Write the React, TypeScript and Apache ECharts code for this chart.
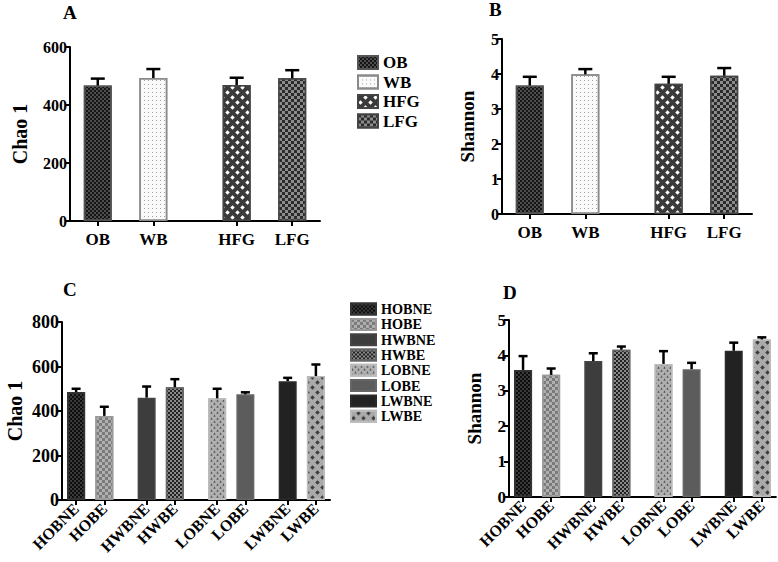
import React, { useEffect, useRef } from 'react';
import * as echarts from 'echarts';

// ---------- data ----------
const groupCats = ['OB', 'WB', 'HFG', 'LFG'];
const chaoMeans = [467, 493, 469, 492];
const chaoErr = [24, 31, 25, 28];
const shannonMeans = [3.67, 3.99, 3.72, 3.95];
const shannonErr = [0.25, 0.15, 0.2, 0.22];

const subCats = ['HOBNE', 'HOBE', 'HWBNE', 'HWBE', 'LOBNE', 'LOBE', 'LWBNE', 'LWBE'];
const subChaoMeans = [485, 378, 460, 507, 457, 475, 534, 557];
const subChaoErr = [15, 41, 50, 36, 43, 9, 15, 52];
const subShannonMeans = [3.59, 3.45, 3.84, 4.16, 3.76, 3.61, 4.13, 4.45];
const subShannonErr = [0.39, 0.18, 0.22, 0.09, 0.36, 0.18, 0.23, 0.06];

const chaoTopMax = 600;
const chaoBottomMax = 800;
const chaoStep = 200;
const shannonMax = 5;
const shannonStep = 1;

const FONT = '"Liberation Serif", "Times New Roman", serif';

// ---------- styles ----------
const checker = (bg: string, fg: string, s: number, border: string) => ({
  color: bg,
  borderColor: border,
  borderWidth: 1.5,
  decal: { symbol: 'rect', symbolSize: 1, color: fg, dashArrayX: [[s, s], [0, s, s, 0]], dashArrayY: [s, 0] },
});
const solid = (c: string, border: string) => ({ color: c, borderColor: border, borderWidth: 1.5, decal: 'none' });
const stagger = (bg: string, fg: string, sym: string, s: number, size: number, border: string) => ({
  color: bg,
  borderColor: border,
  borderWidth: 1.5,
  decal: { symbol: sym, symbolSize: size, color: fg, dashArrayX: [[s, s], [0, s, s, 0]], dashArrayY: [s, 0] },
});

const topStyles: Record<string, any> = {
  OB: checker('#151515', '#4d4d4d', 2, '#555'),
  WB: {
    color: '#fafafa', borderColor: '#8a8a8a', borderWidth: 1.5,
    decal: { symbol: 'rect', symbolSize: 1, color: '#a0a0a0', dashArrayX: [1, 3], dashArrayY: [1, 3] },
  },
  HFG: stagger('#3a3a3a', '#ffffff', 'diamond', 5, 0.9, '#444'),
  LFG: checker('#2b2b2b', '#8c8c8c', 3, '#444'),
};
const bottomStyles: Record<string, any> = {
  HOBNE: checker('#0d0d0d', '#3a3a3a', 2, '#333'),
  HOBE: checker('#7a7a7a', '#b0b0b0', 3, '#999'),
  HWBNE: solid('#3d3d3d', '#444'),
  HWBE: checker('#222222', '#8a8a8a', 2, '#666'),
  LOBNE: stagger('#b0b0b0', '#555555', 'triangle', 3, 0.8, '#bbb'),
  LOBE: solid('#5c5c5c', '#666'),
  LWBNE: solid('#222222', '#2a2a2a'),
  LWBE: stagger('#aaaaaa', '#3c3c3c', 'diamond', 5, 0.9, '#bbb'),
};

// spaced slots: pairs 2 apart, groups 3 apart, 1 slot margin each end
function buildSlots(cats: string[]) {
  const idx: number[] = [];
  let pos = 1;
  cats.forEach((_, i) => {
    if (i > 0) pos += i % 2 === 0 ? 3 : 2;
    idx.push(pos);
  });
  const len = pos + 2;
  const names: string[] = [];
  for (let k = 0; k < len; k++) names.push('gap' + k);
  idx.forEach((p, i) => (names[p] = cats[i]));
  return { idx, names };
}

const isGap = (v: string) => v.startsWith('gap');

function panelSeries(g: number, cats: string[], means: number[], errs: number[], styles: Record<string, any>, barW: number) {
  const { idx, names } = buildSlots(cats);
  const bars = cats.map((c, i) => ({
    type: 'bar',
    name: c,
    xAxisIndex: g,
    yAxisIndex: g,
    barWidth: barW,
    barGap: '-100%',
    data: names.map((_, k) => (k === idx[i] ? means[i] : '-')),
    itemStyle: styles[c],
    silent: true,
  }));
  const err = {
    type: 'custom',
    xAxisIndex: g,
    yAxisIndex: g,
    z: 10,
    silent: true,
    data: cats.map((_, i) => [idx[i], means[i], errs[i]]),
    renderItem: (_p: any, api: any) => {
      const x = api.value(0);
      const m = api.value(1);
      const e = api.value(2);
      const p0 = api.coord([x, m]);
      const p1 = api.coord([x, m + e]);
      const hw = barW / 4;
      return {
        type: 'group',
        children: [
          { type: 'line', shape: { x1: p0[0], y1: p0[1], x2: p1[0], y2: p1[1] }, style: { stroke: '#000', lineWidth: 2.5 } },
          { type: 'line', shape: { x1: p1[0] - hw, y1: p1[1], x2: p1[0] + hw, y2: p1[1] }, style: { stroke: '#000', lineWidth: 2.5 } },
        ],
      };
    },
  };
  return { series: [...bars, err], names };
}

function xAxis(g: number, names: string[], rotate: number, fontSize: number) {
  return {
    type: 'category',
    gridIndex: g,
    data: names,
    boundaryGap: false,
    axisLine: { lineStyle: { color: '#000', width: 2 } },
    axisTick: { show: true, length: 5, lineStyle: { color: '#000', width: 2 }, interval: (_i: number, v: string) => !isGap(v) },
    axisLabel: {
      interval: 0,
      rotate,
      margin: rotate ? 6 : 10,
      color: '#000',
      fontFamily: FONT,
      fontWeight: 'bold',
      fontSize,
      formatter: (v: string) => (isGap(v) ? '' : v),
    },
    splitLine: { show: false },
  };
}

function yAxis(g: number, max: number, step: number, name: string, nameGap: number, labelSize: number, nameSize: number) {
  return {
    type: 'value',
    gridIndex: g,
    min: 0,
    max,
    interval: step,
    name,
    nameLocation: 'middle',
    nameRotate: 90,
    nameGap,
    nameTextStyle: { color: '#000', fontFamily: FONT, fontWeight: 'bold', fontSize: nameSize },
    axisLine: { show: true, lineStyle: { color: '#000', width: 2 } },
    axisTick: { show: true, length: 5, lineStyle: { color: '#000', width: 2 } },
    axisLabel: { color: '#000', fontFamily: FONT, fontWeight: 'bold', fontSize: labelSize, margin: 3 },
    splitLine: { show: false },
  };
}

export default function App() {
  const ref = useRef<HTMLDivElement>(null);
  useEffect(() => {
    if (!ref.current) return;
    const chart = echarts.init(ref.current, null, { renderer: 'svg' });
    const pA = panelSeries(0, groupCats, chaoMeans, chaoErr, topStyles, 28);
    const pB = panelSeries(1, groupCats, shannonMeans, shannonErr, topStyles, 28);
    const pC = panelSeries(2, subCats, subChaoMeans, subChaoErr, bottomStyles, 18);
    const pD = panelSeries(3, subCats, subShannonMeans, subShannonErr, bottomStyles, 18);
    const legendText = (size: number) => ({ color: '#000', fontFamily: FONT, fontWeight: 'bold', fontSize: size, lineHeight: size });
    chart.setOption({
      animation: false,
      backgroundColor: '#fff',
      grid: [
        { left: 70, top: 47, width: 250, height: 174 },
        { left: 502, top: 39, width: 250, height: 175 },
        { left: 62, top: 322, width: 268, height: 178 },
        { left: 509, top: 320, width: 268, height: 177 },
      ],
      xAxis: [
        xAxis(0, pA.names, 0, 17),
        xAxis(1, pB.names, 0, 17),
        xAxis(2, pC.names, 45, 16),
        xAxis(3, pD.names, 45, 16),
      ],
      yAxis: [
        yAxis(0, chaoTopMax, chaoStep, 'Chao 1', 40, 16, 20),
        yAxis(1, shannonMax, shannonStep, 'Shannon', 25, 16, 19),
        yAxis(2, chaoBottomMax, chaoStep, 'Chao 1', 37, 18, 20),
        yAxis(3, shannonMax, shannonStep, 'Shannon', 25, 17, 19),
      ],
      legend: [
        {
          data: groupCats, orient: 'vertical', left: 352, top: 49, icon: 'rect',
          itemWidth: 20, itemHeight: 13, itemGap: 2.5, itemTextGap: 10, textStyle: legendText(17),
          selectedMode: false,
        },
        {
          data: subCats, orient: 'vertical', left: 345, top: 297, icon: 'rect',
          itemWidth: 25, itemHeight: 11, itemGap: 1.1, itemTextGap: 10, textStyle: legendText(14.2),
          selectedMode: false,
        },
      ],
      graphic: [
        { type: 'text', left: 63, top: 3, style: { text: 'A', font: `bold 19px ${FONT}`, fill: '#000' } },
        { type: 'text', left: 489, top: 0, style: { text: 'B', font: `bold 19px ${FONT}`, fill: '#000' } },
        { type: 'text', left: 63, top: 280, style: { text: 'C', font: `bold 19px ${FONT}`, fill: '#000' } },
        { type: 'text', left: 503, top: 283, style: { text: 'D', font: `bold 19px ${FONT}`, fill: '#000' } },
      ],
      series: [...pA.series, ...pB.series, ...pC.series, ...pD.series],
    });
    return () => chart.dispose();
  }, []);
  return <div ref={ref} style={{ position: 'fixed', left: 0, top: 0, width: 778, height: 562 }} />;
}
